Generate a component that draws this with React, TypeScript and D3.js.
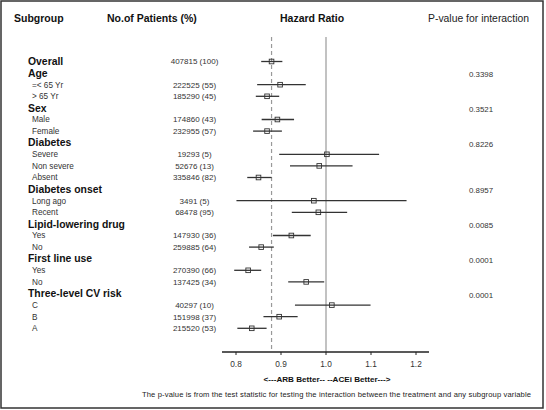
import React from "react";
import * as d3 from "d3";

const labels = ["Overall","Age","=< 65 Yr","> 65 Yr","Sex","Male","Female","Diabetes","Severe","Non severe","Absent","Diabetes onset","Long ago","Recent","Lipid-lowering drug","Yes","No","First line use","Yes","No","Three-level CV risk","C","B","A"];
const isGroup = [true,true,false,false,true,false,false,true,false,false,false,true,false,false,true,false,false,true,false,false,true,false,false,false];
const patients = ["407815 (100)","","222525 (55)","185290 (45)","","174860 (43)","232955 (57)","","19293 (5)","52676 (13)","335846 (82)","","3491 (5)","68478 (95)","","147930 (36)","259885 (64)","","270390 (66)","137425 (34)","","40297 (10)","151998 (37)","215520 (53)"];
const hr:    (number|null)[] = [0.879,null,0.898,0.869,null,0.892,0.869,null,1.002,0.985,0.850,null,0.973,0.983,null,0.923,0.856,null,0.827,0.956,null,1.013,0.896,0.835];
const lower: (number|null)[] = [0.856,null,0.847,0.844,null,0.857,0.838,null,0.896,0.920,0.825,null,0.801,0.924,null,0.882,0.829,null,0.796,0.916,null,0.931,0.861,0.803];
const upper: (number|null)[] = [0.903,null,0.955,0.896,null,0.929,0.902,null,1.118,1.059,0.879,null,1.179,1.047,null,0.966,0.884,null,0.856,0.996,null,1.099,0.937,0.868];
const pvalues = ["","0.3398","","","0.3521","","","0.8226","","","","0.8957","","","0.0085","","","0.0001","","","0.0001","","",""];
const ticks = [0.8,0.9,1.0,1.1,1.2];
const overallHR = 0.879;

const FONT = "Arial, 'Liberation Sans', Helvetica, sans-serif";

export default function App() {
  const x = d3.scaleLinear().domain([0.8, 1.2]).range([236, 416]);
  const y = d3.scaleLinear().domain([0, labels.length - 1]).range([61.5, 328.3]);
  const axisY = 352;
  const top = 37;
  return (
    <svg width={546} height={410} style={{ position: "absolute", left: 0, top: 0, background: "#fff" }} fontFamily={FONT}>
      <rect x={1} y={1} width={542} height={407} fill="#fff" stroke="#333" strokeWidth={1.5} />
      <g fontWeight="bold" fontSize={10.5} fill="#111">
        <text x={14} y={22}>Subgroup</text>
        <text x={107} y={22}>No.of Patients (%)</text>
        <text x={280} y={22}>Hazard Ratio</text>
      </g>
      <text x={428} y={22} fontSize={10.4} fill="#222">P-value for interaction</text>

      <line x1={x(overallHR)} x2={x(overallHR)} y1={top} y2={axisY} stroke="#999" strokeWidth={1.2} strokeDasharray="4,3" />
      <line x1={x(1)} x2={x(1)} y1={top} y2={axisY} stroke="#999" strokeWidth={1.2} />

      {labels.map((l, i) => (
        <g key={i}>
          {isGroup[i] ? (
            <text x={28} y={y(i)} dy="0.36em" fontWeight="bold" fontSize={10.4} fill="#111">{l}</text>
          ) : (
            <text x={32} y={y(i)} dy="0.36em" fontSize={8.2} fill="#333">{l}</text>
          )}
          {patients[i] && (
            <text x={194.5} y={y(i)} dy="0.36em" fontSize={8} textAnchor="middle" fill="#333">{patients[i]}</text>
          )}
          {pvalues[i] && (
            <text x={481} y={y(i) + 1.5} dy="0.36em" fontSize={7.9} textAnchor="middle" fill="#333">{pvalues[i]}</text>
          )}
          {hr[i] !== null && (
            <g>
              <line x1={x(lower[i] as number)} x2={x(upper[i] as number)} y1={y(i)} y2={y(i)} stroke="#333" strokeWidth={1.3} />
              <rect x={x(hr[i] as number) - 2.3} y={y(i) - 2.3} width={4.6} height={4.6} fill="none" stroke="#333" strokeWidth={0.9} />
            </g>
          )}
        </g>
      ))}

      <line x1={222} x2={429} y1={axisY} y2={axisY} stroke="#222" strokeWidth={1.3} />
      {ticks.map((t) => (
        <g key={t}>
          <line x1={x(t)} x2={x(t)} y1={axisY} y2={axisY + 3} stroke="#222" strokeWidth={1} />
          <text x={x(t)} y={367} fontSize={8.3} textAnchor="middle" fill="#333">{t.toFixed(1)}</text>
        </g>
      ))}
      <text x={327} y={382} fontSize={8.1} fontWeight="bold" textAnchor="middle" fill="#111">{"<---ARB Better--  --ACEi Better--->"}</text>
      <text x={531} y={397} fontSize={7.6} textAnchor="end" fill="#222" textLength={389} lengthAdjust="spacing">The p-value is from the test statistic for testing the interaction between the treatment and any subgroup variable</text>
    </svg>
  );
}
